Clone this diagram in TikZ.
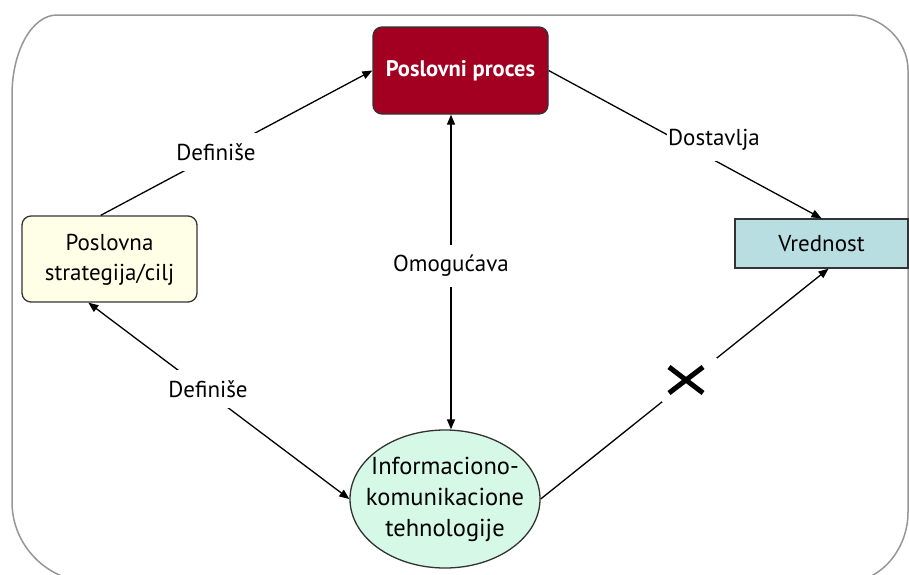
\documentclass[tikz,border=0pt]{standalone}
\usepackage{fontspec}
\setmainfont{PT Sans}
\usetikzlibrary{arrows.meta,shapes.geometric,calc}
\definecolor{procred}{RGB}{163,0,33}
\definecolor{stratfill}{RGB}{255,255,232}
\definecolor{vredfill}{RGB}{184,222,226}
\definecolor{ellfill}{RGB}{214,248,230}
\definecolor{framegray}{RGB}{150,150,150}
\begin{document}
\begin{tikzpicture}[x=1pt,y=-1pt,
  every node/.style={font=\fontsize{23}{30}\selectfont},
  box/.style={draw=black!80, line width=1.3pt, inner sep=0pt},
  conn/.style={line width=1.3pt, draw=black},
  tip/.style={-{Triangle[length=10pt,width=8pt]}},
  tipboth/.style={{Triangle[length=10pt,width=8pt]}-{Triangle[length=10pt,width=8pt]}},
  lab/.style={fill=white, inner xsep=1pt, inner ysep=10pt},
]
\useasboundingbox (0,0) rectangle (909,574);
% outer frame
\draw[framegray, line width=1.5pt] (57,15) -- (850,15)
  .. controls (881,15) and (908,40) .. (908,70) -- (908,512)
  .. controls (908,550) and (880,582) .. (847,582) -- (92,582)
  .. controls (48,582) and (12,546) .. (12,502) -- (12,95)
  .. controls (12,51) and (32,15) .. (57,15) -- cycle;

% nodes
\node[box, fill=procred, rounded corners=9pt, minimum width=175pt, minimum height=87pt,
      text=white, font=\fontsize{22.5}{30}\selectfont\bfseries] (proc) at (460.5,70.5) {Poslovni proces};
\node[box, fill=stratfill, rounded corners=9pt, minimum width=175pt, minimum height=86pt] (strat) at (109.5,259)
  {\raisebox{-8pt}{\setlength{\tabcolsep}{0pt}\begin{tabular}{c}Poslovna\\strategija/cilj\end{tabular}}};
\node[box, fill=vredfill, minimum width=173pt, minimum height=49pt] (vred) at (821.5,243.5) {Vrednost};
\node[box, ellipse, fill=ellfill, inner sep=-14pt, minimum width=190pt, minimum height=138pt,
      font=\fontsize{24.5}{31}\selectfont] (ell) at (445,499)
  {\raisebox{-10pt}{\setlength{\tabcolsep}{0pt}\begin{tabular}{c}Informaciono-\\komunikacione\\tehnologije\end{tabular}}};

% helper coordinates
\coordinate (vtop) at ($(proc.south)+(-9.5,0)$);
\coordinate (vbot) at (vtop |- ell.north);

% connectors
\draw[conn, tip] ($(strat.north west)!0.45!(strat.north east)$) -- (proc.west);
\draw[conn, tip] (proc.east) -- (vred.north);
\draw[conn, tipboth] (vtop) -- (vbot);
\draw[conn, tipboth] ($(strat.south west)!0.38!(strat.south east)$) -- (ell.west);
\draw[conn, tip] (ell.east) -- ($(vred.south)+(7,0)$);

% labels
\node[lab] (def1) at (216,152) {Definiše};
\node[lab] (dost) at (714,140) {Dostavlja};
\node[lab] (omog) at (451,266) {Omogućava};
\node[lab] (def2) at (208,389) {Definiše};
\node[fill=white, minimum width=55pt, minimum height=44pt, inner sep=0pt,
  path picture={
    \draw[line width=5pt] ($(path picture bounding box.center)+(-20,-13)$) -- ($(path picture bounding box.center)+(14,13)$);
    \draw[line width=5pt] ($(path picture bounding box.center)+(-20,13)$) -- ($(path picture bounding box.center)+(14,-13)$);
  }] (cross) at (689,380) {};
\end{tikzpicture}
\end{document}
